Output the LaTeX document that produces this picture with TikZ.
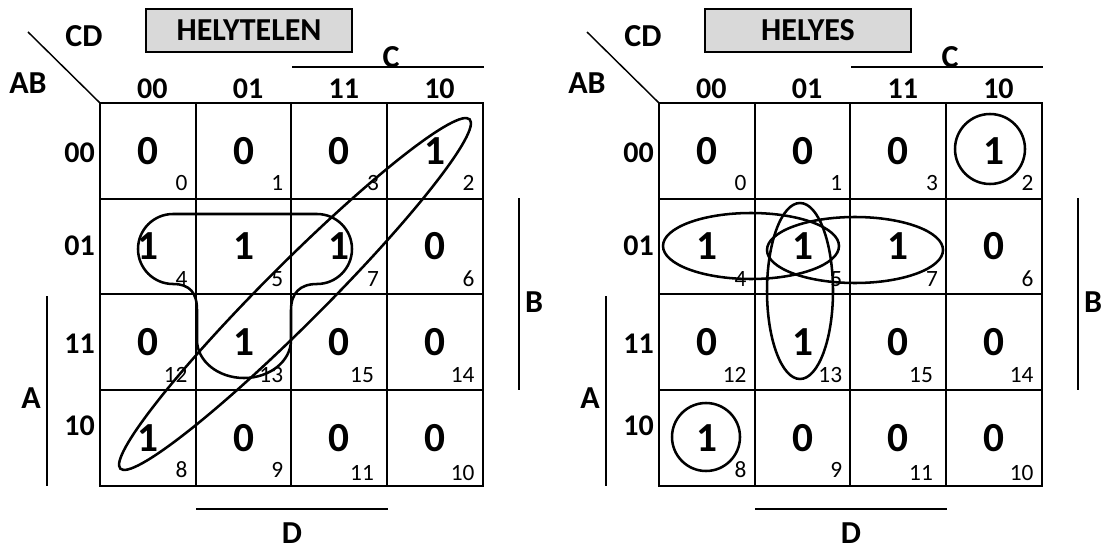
\documentclass[tikz,border=0pt]{standalone}
\usepackage{fontspec}
\setmainfont{Carlito}
\definecolor{boxgray}{RGB}{217,217,217}
\tikzset{
  gridln/.style={line width=1.5pt},
  loopln/.style={line width=1.9pt},
  barln/.style={line width=1.1pt},
  val/.style={font=\fontsize{31}{36}\selectfont\bfseries, inner sep=0pt},
  idx/.style={font=\fontsize{17.5}{20}\selectfont, inner sep=0pt, anchor=base east},
  hdr/.style={font=\fontsize{22.5}{26}\selectfont\bfseries, inner sep=0pt, anchor=base},
  rowhdr/.style={font=\fontsize{22.5}{26}\selectfont\bfseries, inner sep=0pt, anchor=base east},
  lbl/.style={font=\fontsize{24}{28}\selectfont\bfseries, inner sep=0pt},
  titlebox/.style={draw, fill=boxgray, line width=1.4pt, minimum width=154.5pt,
    minimum height=32.25pt, inner sep=0pt, font=\fontsize{24}{28}\selectfont\bfseries},
}
\def\kcell{95.7}
\newcommand{\kmapbase}[2]{%
  % grid
  \draw[gridln] (0,0) rectangle ({4*\kcell},{4*\kcell});
  \foreach \k in {1,2,3} {
    \draw[gridln] ({\k*\kcell},0) -- ({\k*\kcell},{4*\kcell});
    \draw[gridln] (0,{\k*\kcell}) -- ({4*\kcell},{\k*\kcell});
  }
  % values and indices
  \foreach \v/\i [count=\n from 0] in {0/0,0/1,0/3,1/2,1/4,1/5,1/7,0/6,0/12,1/13,0/15,0/14,1/8,0/9,0/11,0/10} {
    \pgfmathtruncatemacro\cc{mod(\n,4)}
    \pgfmathtruncatemacro\rr{div(\n,4)}
    \pgfmathsetmacro\inset{(\i==15 || \i==11) ? 13 : 8}
    \pgfmathsetmacro\up{(\i==11 || \i==10) ? 5 : 8}
    \node[val] (#1-v\i) at ({(\cc+0.5)*\kcell},{(\rr+0.5)*\kcell}) {\v};
    \node[idx] (#1-i\i) at ({(\cc+1)*\kcell-\inset},{(\rr+1)*\kcell-\up}) {\i};
  }
  % headers
  \foreach \t [count=\n from 0] in {00,01,11,10}
    \node[hdr] (#1-c\t) at ({(\n+0.5)*\kcell+4.5},-4) {\t};
  \foreach \t/\yb in {00/59,01/152,11/250,10/332}
    \node[rowhdr] (#1-r\t) at (-5,\yb) {\t};
  % corner labels
  \coordinate (#1-corner) at (0,0);
  \coordinate (#1-dg) at (-72,-71);
  \draw[barln] (#1-dg) -- (#1-corner);
  \node[lbl] (#1-CD) at (-16,-67) {CD};
  \node[lbl] (#1-AB) at (-72,-20) {AB};
  \node[titlebox] (#1-title) at (149,-72.5) {#2};
  % variable bars
  \coordinate (#1-c1) at (192,-36); \coordinate (#1-c2) at (384,-36);
  \draw[barln] (#1-c1) -- (#1-c2);
  \node[lbl] (#1-C) at (291,-46) {C};
  \coordinate (#1-b1) at (419,95); \coordinate (#1-b2) at (419,287);
  \draw[barln] (#1-b1) -- (#1-b2);
  \node[lbl] (#1-B) at (434,199) {B};
  \coordinate (#1-a1) at (-53,193); \coordinate (#1-a2) at (-53,383);
  \draw[barln] (#1-a1) -- (#1-a2);
  \node[lbl] (#1-A) at (-69,295) {A};
  \coordinate (#1-d1) at (96,406); \coordinate (#1-d2) at (288,406);
  \draw[barln] (#1-d1) -- (#1-d2);
  \node[lbl] (#1-D) at (192,430) {D};
}
\begin{document}
\begin{tikzpicture}[x=0.75pt,y=-0.75pt]
\useasboundingbox (0,0) rectangle (1102,549);
% left map: HELYTELEN
\begin{scope}[shift={(100,103)}]
  \kmapbase{L}{HELYTELEN}
  \draw[loopln, rotate around={45:(195,191)}] (195,191) ellipse [x radius=247, y radius=30];
  \draw[loopln] (73,111) -- (217,111)
    .. controls (236.3,111) and (252,126.7) .. (252,146)
    .. controls (252,165.3) and (236.3,181) .. (217,181)
    .. controls (200,181) and (191,190) .. (191,207)
    -- (191,237)
    .. controls (191,258) and (170,275) .. (144,275)
    .. controls (118,275) and (97,258) .. (97,237)
    -- (97,207)
    .. controls (97,190) and (90,181) .. (73,181)
    .. controls (53.7,181) and (38,165.3) .. (38,146)
    .. controls (38,126.7) and (53.7,111) .. (73,111) -- cycle;
\end{scope}
% right map: HELYES
\begin{scope}[shift={(659,103)}]
  \kmapbase{R}{HELYES}
  \draw[loopln] (331,46) circle [radius=35];
  \draw[loopln] (47,334) circle [radius=34];
  \draw[loopln] (92,143) ellipse [x radius=88, y radius=33];
  \draw[loopln] (196,147) ellipse [x radius=88, y radius=33];
  \draw[loopln] (141,188) ellipse [x radius=33, y radius=88];
\end{scope}
\end{tikzpicture}
\end{document}
